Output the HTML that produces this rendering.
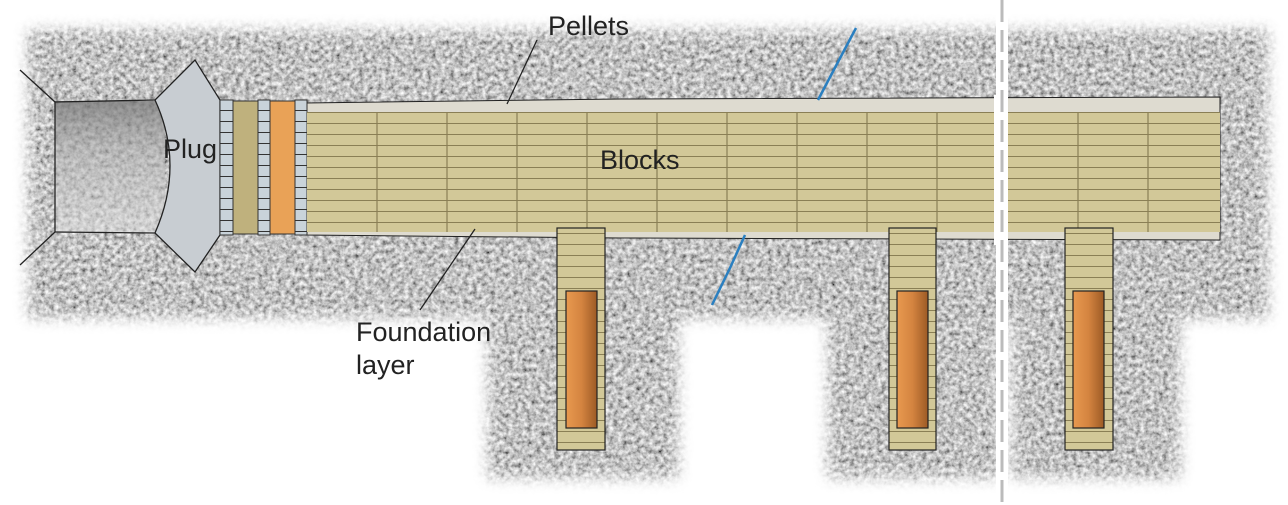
<!DOCTYPE html><html><head><style>body{margin:0;background:#fff}svg{display:block}text{font-family:"Liberation Sans",sans-serif;fill:#222}</style></head><body>
<svg width="1288" height="505" viewBox="0 0 1288 505">
<defs>
<filter id="rock" x="0" y="0" width="100%" height="100%"><feTurbulence type="fractalNoise" baseFrequency="0.22" numOctaves="3" seed="5"/><feColorMatrix type="matrix" values="1.2 0 0 0 -0.06  1.2 0 0 0 -0.06  1.2 0 0 0 -0.06  0 0 0 0 1"/></filter>
<filter id="blur"><feGaussianBlur stdDeviation="7"/></filter>
<mask id="rm"><path d="M28,30 H1268 V318 H1180 V478 H1012 V318 H1000 V478 H828 V318 H678 V478 H488 V318 H28 Z" fill="#fff" filter="url(#blur)"/></mask>
<linearGradient id="cu" x1="0" x2="1"><stop offset="0" stop-color="#e8994f"/><stop offset="0.5" stop-color="#d48440"/><stop offset="1" stop-color="#9c5a25"/></linearGradient>
<linearGradient id="tun" x1="0" y1="0" x2="0" y2="1"><stop offset="0" stop-color="#555" stop-opacity="0.55"/><stop offset="0.4" stop-color="#777" stop-opacity="0.2"/><stop offset="1" stop-color="#fff" stop-opacity="0.2"/></linearGradient>
<pattern id="hl" width="10" height="11" patternUnits="userSpaceOnUse" y="112"><rect width="10" height="11" fill="#d2c898"/><line x1="0" y1="0.5" x2="10" y2="0.5" stroke="#8a7f55" stroke-width="1"/></pattern>
<pattern id="grid" width="13" height="11" patternUnits="userSpaceOnUse"><rect width="13" height="11" fill="#c9d3da"/><line x1="0" y1="0.5" x2="13" y2="0.5" stroke="#333"/></pattern>
</defs>
<rect width="1288" height="505" filter="url(#rock)" mask="url(#rm)"/>
<rect x="996" y="0" width="12" height="505" fill="#fff"/>
<line x1="1002" y1="0" x2="1002" y2="505" stroke="#bbb" stroke-width="3" stroke-dasharray="22,8"/>
<rect x="55" y="101" width="110" height="132" fill="#d0d0d0" opacity="0.45"/>
<rect x="55" y="101" width="110" height="132" fill="url(#tun)"/>
<g stroke="#222" stroke-width="1.3" fill="none"><line x1="20" y1="70" x2="55" y2="102"/><line x1="20" y1="265" x2="55" y2="232"/><line x1="55" y1="102" x2="155" y2="100"/><line x1="55" y1="232" x2="155" y2="233"/><line x1="55" y1="102" x2="55" y2="232"/></g>
<path d="M155,100 L195,60 L220,100 L220,235 L195,272 L155,233 Q185,165 155,100 Z" fill="#c8cdd2" stroke="#222" stroke-width="1.3"/>
<polygon points="305,103 620,99 1220,97 1220,240 620,238 305,235" fill="#dedbd0" stroke="#222" stroke-width="1"/>
<rect x="220" y="100" width="13" height="135" fill="url(#grid)" stroke="#333"/>
<rect x="233" y="101" width="25" height="133" fill="#bfb17d" stroke="#333"/>
<rect x="258" y="100" width="12" height="135" fill="url(#grid)" stroke="#333"/>
<rect x="270" y="101" width="25" height="133" fill="#e9a257" stroke="#333"/>
<rect x="295" y="100" width="12" height="135" fill="url(#grid)" stroke="#333"/>
<rect x="307" y="112" width="913" height="120" fill="url(#hl)"/>
<g stroke="#8a7f55" stroke-width="1.2">
<line x1="377" y1="112" x2="377" y2="232"/><line x1="447" y1="112" x2="447" y2="232"/><line x1="517" y1="112" x2="517" y2="232"/><line x1="587" y1="112" x2="587" y2="232"/><line x1="657" y1="112" x2="657" y2="232"/><line x1="727" y1="112" x2="727" y2="232"/><line x1="797" y1="112" x2="797" y2="232"/><line x1="867" y1="112" x2="867" y2="232"/><line x1="937" y1="112" x2="937" y2="232"/><line x1="1078" y1="112" x2="1078" y2="232"/><line x1="1148" y1="112" x2="1148" y2="232"/>
</g>
<rect x="994" y="95" width="14" height="150" fill="#fff"/>
<line x1="1002" y1="90" x2="1002" y2="250" stroke="#bbb" stroke-width="3" stroke-dasharray="22,8"/>
<g stroke="#222" stroke-width="1.2">
<g><rect x="557" y="228" width="48" height="222" fill="url(#hl)"/><rect x="566" y="291" width="31" height="137" fill="url(#cu)"/></g>
<g><rect x="889" y="228" width="47" height="222" fill="url(#hl)"/><rect x="897" y="291" width="31" height="137" fill="url(#cu)"/></g>
<g><rect x="1065" y="228" width="48" height="222" fill="url(#hl)"/><rect x="1073" y="291" width="31" height="137" fill="url(#cu)"/></g>
</g>
<g stroke="#2a7fc0" stroke-width="2.5" fill="none"><polyline points="856,28 838,62 818,100"/><polyline points="745,235 730,268 712,305"/></g>
<g stroke="#222" stroke-width="1.3"><line x1="537" y1="40" x2="507" y2="104"/><line x1="475" y1="229" x2="420" y2="310"/></g>
<text x="548" y="35" font-size="27">Pellets</text>
<text x="163" y="158" font-size="27">Plug</text>
<text x="600" y="169" font-size="27">Blocks</text>
<text x="356" y="341" font-size="27">Foundation</text>
<text x="356" y="374" font-size="27">layer</text>
</svg></body></html>
